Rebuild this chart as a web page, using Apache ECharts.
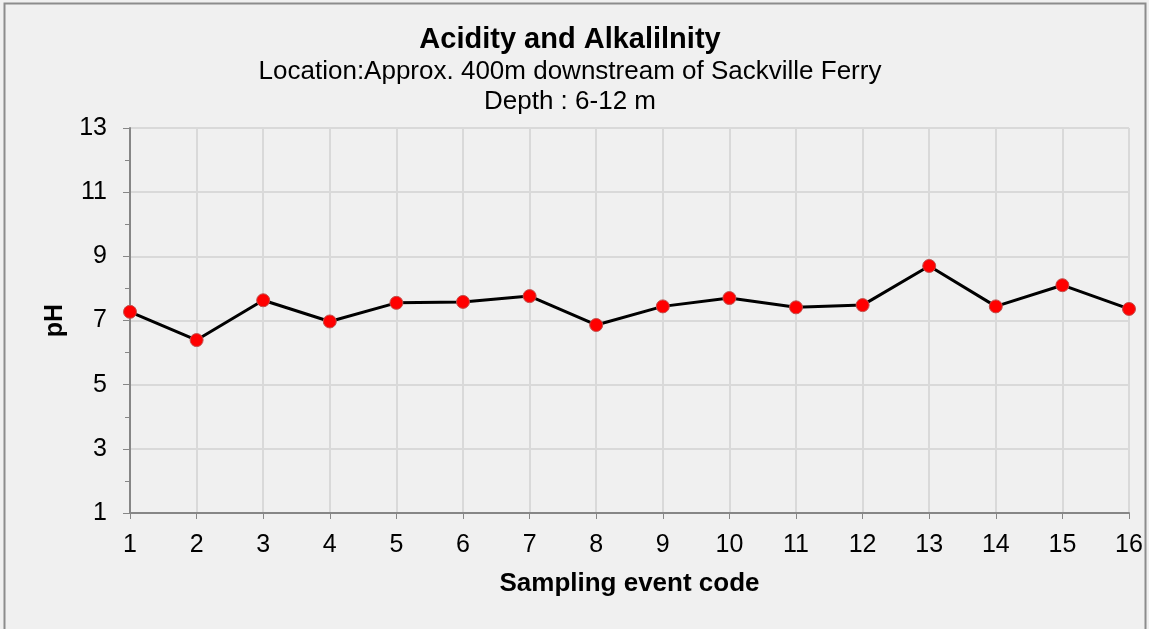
<!DOCTYPE html>
<html>
<head>
<meta charset="utf-8">
<script src="https://cdn.jsdelivr.net/npm/echarts@6/dist/echarts.min.js"></script>
<style>
  html, body { margin: 0; padding: 0; background: #f0f0f0; }
  #main { width: 1149px; height: 629px; }
</style>
</head>
<body>
<div id="main"></div>
<script>
var events = [1, 2, 3, 4, 5, 6, 7, 8, 9, 10, 11, 12, 13, 14, 15, 16];
var phValues = [7.27, 6.39, 7.63, 6.97, 7.55, 7.58, 7.76, 6.86, 7.44, 7.70, 7.41, 7.48, 8.70, 7.44, 8.10, 7.36];

var chart = echarts.init(document.getElementById('main'));

var points = [];
for (var i = 0; i < events.length; i++) {
    points.push([events[i], phValues[i]]);
}

chart.setOption({
    backgroundColor: '#f0f0f0',
    animation: false,
    textStyle: { fontFamily: 'Liberation Sans, Arial, sans-serif' },
    graphic: [{
        type: 'rect',
        shape: { x: 4.5, y: 3.5, width: 1141, height: 640 },
        style: { fill: 'none', stroke: '#8c8c8c', lineWidth: 2 },
        silent: true
    }],
    title: [{
        text: 'Acidity and Alkalilnity',
        left: 565,
        top: 20,
        textAlign: 'center',
        textStyle: { fontSize: 29, fontWeight: 'bold', color: '#000' }
    }, {
        text: 'Location:Approx. 400m downstream of Sackville Ferry\nDepth : 6-12 m',
        left: 565,
        top: 52,
        textAlign: 'center',
        textStyle: { fontSize: 26, fontWeight: 'normal', color: '#000', lineHeight: 30 }
    }],
    grid: { left: 130, right: 20, top: 128, bottom: 116 },
    xAxis: {
        type: 'value',
        min: 1, max: 16, interval: 1,
        name: 'Sampling event code',
        nameLocation: 'middle',
        nameGap: 58,
        nameTextStyle: { fontSize: 26, fontWeight: 'bold', color: '#000' },
        axisLine: { lineStyle: { color: '#868686', width: 2 } },
        axisTick: { show: true, length: 6, lineStyle: { color: '#868686' } },
        axisLabel: { fontSize: 25, color: '#000', margin: 20 },
        splitLine: { show: true, lineStyle: { color: '#d9d9d9', width: 2 } }
    },
    yAxis: {
        type: 'value',
        min: 1, max: 13, interval: 2,
        name: 'pH',
        nameLocation: 'middle',
        nameGap: 62,
        nameTextStyle: { fontSize: 25, fontWeight: 'bold', color: '#000' },
        axisLine: { show: true, lineStyle: { color: '#868686', width: 2 } },
        axisTick: { show: true, length: 7, lineStyle: { color: '#868686' } },
        minorTick: { show: true, splitNumber: 2, length: 5, lineStyle: { color: '#868686' } },
        axisLabel: { fontSize: 25, color: '#000', margin: 23 },
        splitLine: { show: true, lineStyle: { color: '#d9d9d9', width: 2 } }
    },
    series: [{
        type: 'line',
        data: points,
        symbol: 'circle',
        symbolSize: 13,
        lineStyle: { color: '#000', width: 3 },
        itemStyle: { color: '#ff0000', borderColor: '#c0504d', borderWidth: 1 }
    }]
});
</script>
</body>
</html>
